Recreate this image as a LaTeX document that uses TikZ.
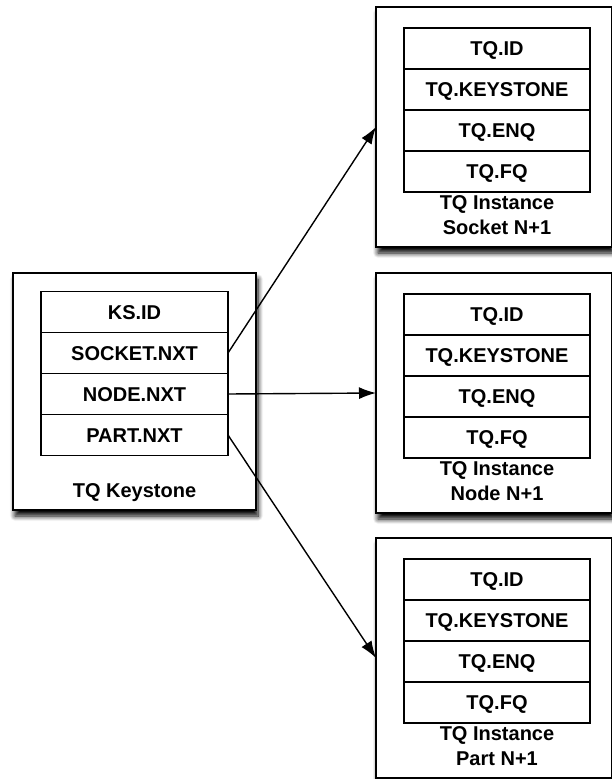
\documentclass[tikz,border=0pt]{standalone}
\usepackage{fontspec}
\setmainfont{Liberation Sans}
\usetikzlibrary{positioning,arrows.meta,shadows.blur}

\begin{document}
\begin{tikzpicture}[x=1pt,y=-1pt,
    box/.style={draw,line width=1.8pt,fill=white,inner sep=0pt,outer sep=0pt,
      minimum width=236pt,minimum height=240pt,
      blur shadow={shadow xshift=2pt,shadow yshift=-6pt,shadow blur radius=5pt,shadow blur steps=8,shadow opacity=100}},
    row/.style={draw,line width=1.5pt,inner sep=0pt,outer sep=0pt,
      minimum width=186pt,minimum height=41pt,text height=14pt,text depth=0pt},
    caption/.style={inner sep=0pt,align=center},
    link/.style={line width=1.4pt,-{Latex[length=17pt,width=12pt]}},
    every node/.append style={font=\bfseries\fontsize{20}{25}\selectfont}]
  \useasboundingbox (0,0) rectangle (611,779);

  % keystone
  \node[box,minimum width=243pt,minimum height=237pt] (ks) at (134.5,391.5) {};
  \node[row,minimum width=187pt] (ksid) at (134.5,312) {KS.ID};
  \node[row,minimum width=187pt,below=0pt of ksid] (kssock) {SOCKET.NXT};
  \node[row,minimum width=187pt,below=0pt of kssock] (ksnode) {NODE.NXT};
  \node[row,minimum width=187pt,below=0pt of ksnode] (kspart) {PART.NXT};
  \node[caption,anchor=base] (kslabel) at ([yshift=13pt]ks.south) {TQ Keystone};

  % one instance per target
  \foreach \name/\cy/\what in {sockbox/127/Socket,nodebox/393/Node,partbox/658/Part}{
    \node[box] (\name) at (494,\cy) {};
    \node[row] (\name-id) at (497,\cy-78.5) {TQ.ID};
    \node[row,below=0pt of \name-id] (\name-ks) {TQ.KEYSTONE};
    \node[row,below=0pt of \name-ks] (\name-enq) {TQ.ENQ};
    \node[row,below=0pt of \name-enq] (\name-fq) {TQ.FQ};
    \node[caption,below=3pt of \name-fq] (\name-label) {TQ Instance\\\what{} N+1};
  }

  \draw[link] (kssock.east) -- (sockbox.west);
  \draw[link] (ksnode.east) -- (nodebox.west);
  \draw[link] (kspart.east) -- (partbox.west);
\end{tikzpicture}
\end{document}
